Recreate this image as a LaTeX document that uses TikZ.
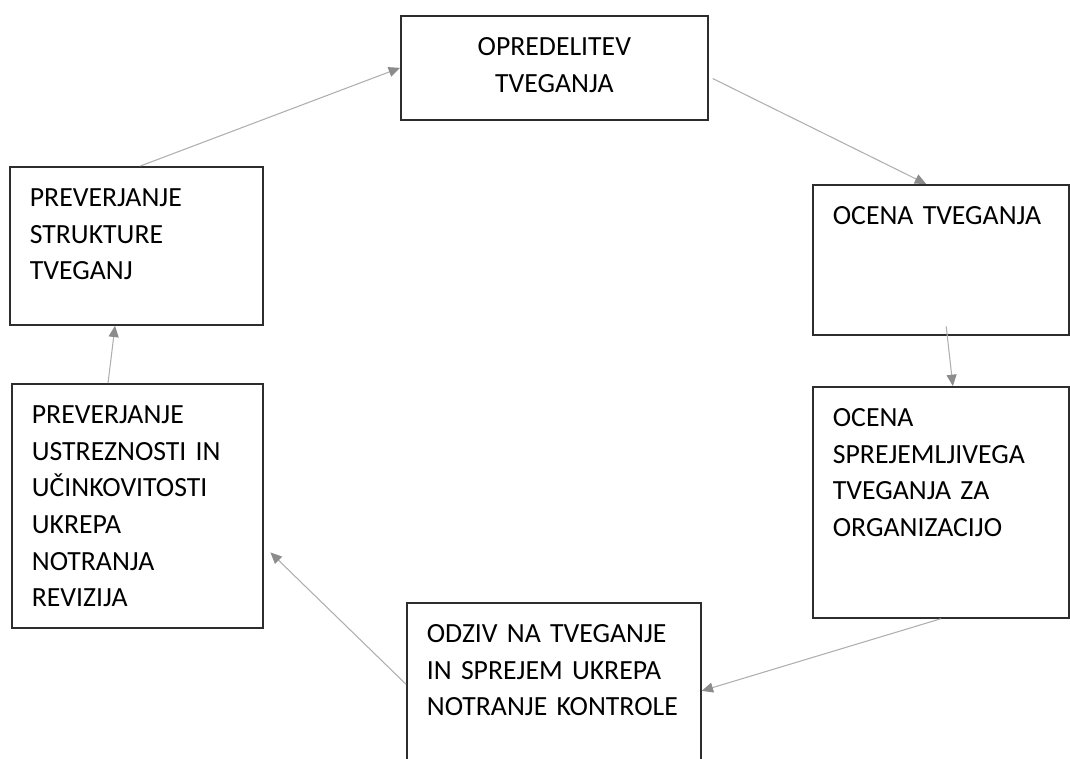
\documentclass[tikz,border=0pt]{standalone}
\usepackage{fontspec}
\setmainfont{Carlito}
\usepackage{xcolor}
\usepackage{tikz}
\usetikzlibrary{arrows.meta}
\hyphenpenalty=10000
\definecolor{flowgray}{RGB}{175,175,175}
\definecolor{tipgray}{RGB}{140,140,140}
\definecolor{boxline}{RGB}{45,45,45}
\tikzset{
    stage/.style = {rectangle, draw=boxline, line width=1.3pt, anchor=north west, align=left,
                    inner xsep=15pt, inner ysep=15pt, text height=15pt,
                    font=\fontsize{20.8pt}{27.4pt}\selectfont},
    stage_mid/.style = {stage, align=center},
    flow/.style = {->, draw=flowgray, line width=0.8pt}
}

\begin{document}
\begin{tikzpicture}
            [x=0.75pt, y=-0.75pt,
            >={Triangle[length=8.5pt,width=7.5pt,color=tipgray]}]

            \clip (0,0) rectangle (1070,758);

            \node (risk_def) [stage_mid, text width=200.25pt, text depth=33pt] at (400,15)
                {OPREDELITEV\\TVEGANJA};
            \node (risk_eval) [stage, text width=162pt, text depth=67.5pt] at (812,184)
                {OCENA TVEGANJA};
            \node (accept_eval) [stage, text width=162pt, text depth=128.25pt] at (812,386)
                {OCENA\\SPREJEMLJIVEGA\\TVEGANJA ZA\\ORGANIZACIJO};
            \node (response) [stage, text width=190.5pt, text depth=87pt] at (406,602)
                {ODZIV NA TVEGANJE\\IN SPREJEM UKREPA\\NOTRANJE KONTROLE};
            \node (structure_check) [stage, text width=159.75pt, text depth=73.5pt] at (9,166)
                {PREVERJANJE\\STRUKTURE\\TVEGANJ};
            \node (audit_check) [stage, text width=158.25pt, text depth=138pt] at (11,383)
                {PREVERJANJE\\USTREZNOSTI IN\\UČINKOVITOSTI\\UKREPA\\NOTRANJA\\REVIZIJA};

            \draw [flow] ([xshift=3pt]structure_check.north) -- (risk_def.west);
            \draw [flow] ([xshift=3pt,yshift=-8pt]risk_def.east) -- ([xshift=-11pt]risk_eval.north);
            \draw [flow] ([xshift=4pt,yshift=7pt]risk_eval.south) -- ([xshift=9pt]accept_eval.north);
            \draw [flow] (accept_eval.south) -- (response.east);
            \draw [flow, shorten >=7pt] ([yshift=5pt]response.west) -- ([yshift=-30pt]audit_check.east);
            \draw [flow] ([xshift=-22pt]audit_check.north) -- ([xshift=-16pt]structure_check.south);
\end{tikzpicture}
\end{document}
